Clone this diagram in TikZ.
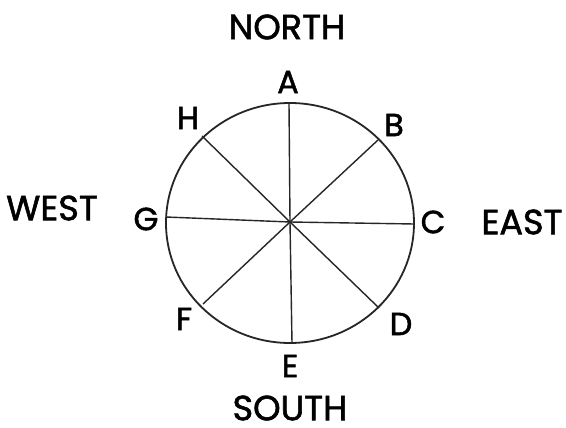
\documentclass[tikz,border=0pt]{standalone}
\usepackage{fontspec}
\setmainfont{Poppins}
\newfontfamily\labfont{Poppins}[FakeBold=1.6]
\begin{document}
\begin{tikzpicture}[x=1pt,y=-1pt,
  rim/.style={line width=1.8pt, draw=black!85},
  spoke/.style={line width=1.4pt, draw=black!85},
  pt/.style={font=\labfont\fontsize{32}{32}\selectfont, text=black, inner sep=0pt},
  dir/.style={font=\labfont\fontsize{35}{35}\selectfont, text=black, inner sep=0pt}]
\useasboundingbox (0,0) rectangle (566,428);
\fill[white] (0,0) rectangle (566,428);
% circle
\draw[rim] (290,223) ellipse [x radius=124pt, y radius=120pt];
% end points of the spokes
\coordinate (O) at (290,222);
\coordinate (pA) at (289,103);
\coordinate (pE) at (292,343);
\coordinate (pB) at (378,140);
\coordinate (pF) at (203,304);
\coordinate (pH) at (202,136);
\coordinate (pD) at (379,308);
\coordinate (pG) at (166,217);
\coordinate (pC) at (414,224);
\draw[spoke] (pA) -- (O) -- (pE);
\draw[spoke] (pB) -- (O) -- (pF);
\draw[spoke] (pH) -- (O) -- (pD);
\draw[spoke] (pG) -- (O) -- (pC);
% point labels
\node[pt] (A) at (288,82) {A};
\node[pt] (B) at (394,125) {B};
\node[pt] (C) at (433,222) {C};
\node[pt] (D) at (401,324) {D};
\node[pt] (E) at (290,366) {E};
\node[pt] (F) at (184,319) {F};
\node[pt] (G) at (146,219) {G};
\node[pt] (H) at (188,118) {H};
% directions
\node[dir] (north) at (287,27) {NORTH};
\node[dir] (south) at (290,408) {SOUTH};
\node[dir] (west) at (52,208) {WEST};
\node[dir] (east) at (522,222) {EAST};
\end{tikzpicture}
\end{document}
